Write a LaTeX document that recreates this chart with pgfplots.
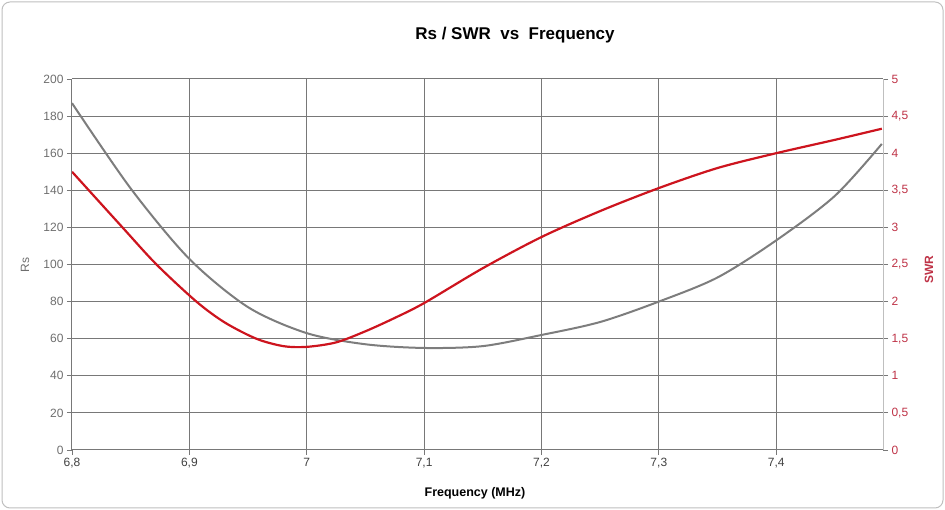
\documentclass[border=0pt]{standalone}
\usepackage{pgfplots}
\pgfplotsset{compat=1.18}
\usepackage{fontspec}
\setmainfont{Liberation Sans}
\definecolor{gridgray}{RGB}{120,120,120}
\definecolor{rsgray}{RGB}{125,125,125}
\definecolor{swrred}{RGB}{205,20,30}
\definecolor{ticklab}{RGB}{110,110,110}
\definecolor{redlab}{RGB}{190,50,70}
\begin{document}
\begin{tikzpicture}
\useasboundingbox (0,0) rectangle (945pt,510pt);
\draw[rounded corners=8pt, draw=black!25, line width=1pt] (2pt,2pt) rectangle (943pt,508pt);
\node[font=\fontsize{17}{20}\selectfont\bfseries] at (515pt,475pt) {Rs / SWR\ \ vs\ \ Frequency};
\node[font=\fontsize{12.5}{14}\selectfont\bfseries] at (475pt,17pt) {Frequency (MHz)};
\node[font=\fontsize{12}{14}\selectfont, text=ticklab, rotate=90] at (25pt,245pt) {Rs};
\node[font=\fontsize{12}{14}\selectfont\bfseries, text=redlab, rotate=90] at (929pt,240pt) {SWR};

\begin{axis}[at={(72pt,60pt)}, anchor=south west, scale only axis,
  width=811pt, height=371pt,
  xmin=6.8, xmax=7.491, ymin=0, ymax=200,
  axis x line*=bottom, axis y line*=left,
  axis line style={-, draw=gridgray, line width=1pt},
  grid=major, grid style={draw=gridgray, line width=1pt},
  tick align=outside, major tick length=5pt,
  tick style={draw=gridgray, line width=0.8pt},
  xtick={6.8,6.9,7.0,7.1,7.2,7.3,7.4},
  xticklabels={{6,8},{6,9},7,{7,1},{7,2},{7,3},{7,4}},
  ytick={0,20,...,200},
  yticklabels={0,20,40,60,80,100,120,140,160,180,200},
  ticklabel style={font=\fontsize{12}{14}\selectfont, text=ticklab},
  xticklabel style={text=black!75},
]
\addplot[smooth, rsgray, line width=2pt] coordinates {
  (6.80,187) (6.85,141) (6.90,103) (6.95,77) (7.00,63) (7.05,57)
  (7.10,55) (7.15,56) (7.20,62) (7.25,69) (7.30,80) (7.35,93)
  (7.40,113) (7.45,137) (7.49,165)
};
\end{axis}

\begin{axis}[at={(72pt,60pt)}, anchor=south west, scale only axis,
  width=811pt, height=371pt,
  xmin=6.8, xmax=7.491, ymin=0, ymax=5,
  axis x line=none, axis y line*=right,
  axis line style={-, draw=black!25, line width=1pt},
  tick align=outside, major tick length=5pt,
  tick style={draw=gridgray, line width=0.8pt},
  ytick={0,0.5,...,5},
  yticklabels={0,{0,5},1,{1,5},2,{2,5},3,{3,5},4,{4,5},5},
  yticklabel style={font=\fontsize{12}{14}\selectfont, text=redlab},
]
\addplot[smooth, swrred, line width=2.2pt] coordinates {
  (6.80,3.75) (6.843,3.0) (6.872,2.5) (6.906,2.0)
  (6.93,1.72) (6.957,1.5) (6.98,1.4) (7.00,1.39) (7.025,1.45)
  (7.05,1.6) (7.075,1.78) (7.10,1.98) (7.15,2.45) (7.20,2.87)
  (7.25,3.22) (7.30,3.53) (7.35,3.8) (7.40,4.0) (7.45,4.18) (7.49,4.33)
};
\end{axis}
\end{tikzpicture}
\end{document}
